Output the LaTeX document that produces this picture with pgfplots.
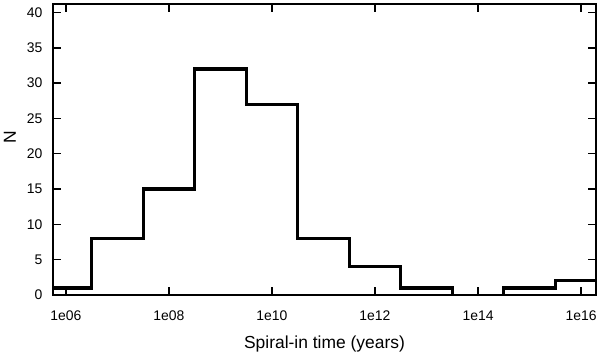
\documentclass[border=0pt]{standalone}
\usepackage{fontspec}
\setmainfont{Liberation Sans}
\usepackage{pgfplots}
\pgfplotsset{compat=1.18}
\begin{document}
\begin{tikzpicture}
\begin{axis}[
    scale only axis,
    width=543bp, height=291bp,
    xmode=log, log basis x=10,
    xmin=5.623e5, xmax=1.95e16,
    ymin=0, ymax=41.2,
    xtick={1e6,1e8,1e10,1e12,1e14,1e16},
    xticklabels={1e06,1e08,1e10,1e12,1e14,1e16},
    minor xtick={},
    ytick={0,5,...,40},
    tick align=inside,
    major tick length=8bp,
    axis line style={line width=1.5bp},
    every tick/.style={line width=1.5bp, black},
    tick label style={font=\fontsize{14}{16}\selectfont},
    /pgf/number format/assume math mode=true,
    yticklabel style={xshift=-7bp},
    xticklabel style={yshift=-12bp},
    xlabel={Spiral-in time (years)},
    ylabel={N},
    label style={font=\fontsize{17.5}{20}\selectfont},
    xlabel style={at={(axis description cs:0.5,-0.167)}, anchor=center},
    ylabel style={at={(axis description cs:-0.0792,0.543)}, anchor=center},
]
% histogram counts, bins one decade wide centred on integer exponents;
% the empty bin (1e13.5 to 1e14.5) is left out so the axis line stays thin
\addplot[const plot, black, line width=3.2bp, line join=miter] coordinates {
    (3.162e5,1) (3.162e6,8) (3.162e7,15) (3.162e8,32) (3.162e9,27)
    (3.162e10,8) (3.162e11,4) (3.162e12,1) (3.162e13,0)};
\addplot[const plot, black, line width=3.2bp, line join=miter] coordinates {
    (3.162e14,0) (3.162e14,1) (3.162e15,2) (3.162e16,2)};
\end{axis}
\path (current axis.south west) ++(-53bp,-63bp) rectangle ++(600bp,358bp);
\end{tikzpicture}
\end{document}
